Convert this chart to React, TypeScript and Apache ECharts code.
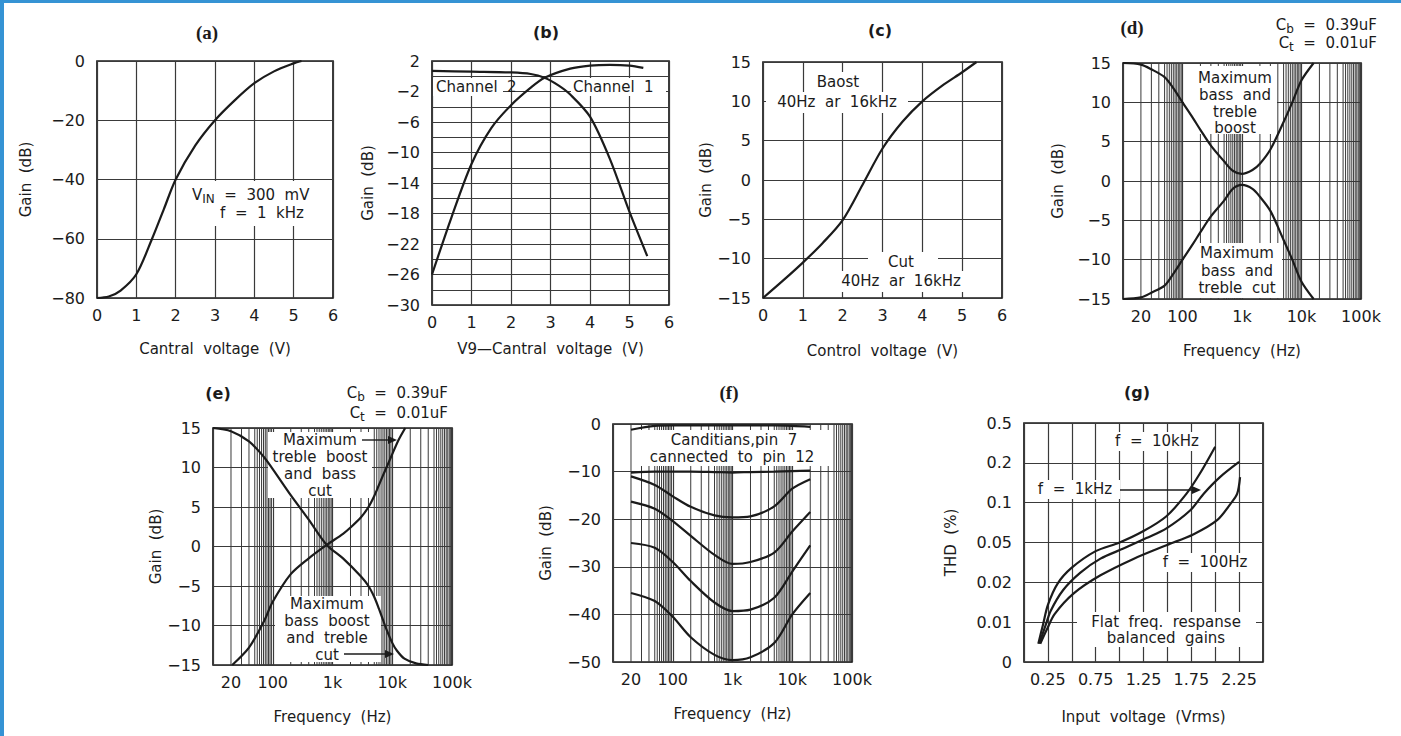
import React, { useEffect, useRef } from 'react';
import * as echarts from 'echarts';

const FONT = 'DejaVu Sans';
const INK = '#1b1b1b';
const GRIDC = '#3a3a3a';

// ---------- (a) ----------
const A_X = [0, 0.3, 0.6, 1.0, 1.4, 1.7, 2.0, 2.5, 3.0, 3.5, 4.0, 4.5, 5.0, 5.2];
const A_Y = [-80, -79.5, -77.5, -72, -60, -50, -40, -28.5, -20, -13.3, -7.5, -3.5, -0.8, 0];

// ---------- (b) ----------
const B_RISE_X = [0, 0.5, 1.0, 1.5, 2.0, 2.5, 2.85, 3.5, 4.0, 4.5, 5.0, 5.35];
const B_RISE_Y = [-26, -18.4, -11.5, -6.8, -3.8, -1.5, -0.2, 1.0, 1.4, 1.5, 1.4, 1.1];
const B_FALL_X = [0, 1.0, 2.0, 2.5, 2.85, 3.2, 3.5, 4.0, 4.5, 5.0, 5.45];
const B_FALL_Y = [0.7, 0.6, 0.5, 0.3, -0.2, -1.2, -2.4, -5.3, -10.8, -17.8, -23.6];

// ---------- (c) ----------
const C_X = [0, 0.5, 1.0, 1.5, 2.0, 2.5, 3.0, 3.5, 4.0, 4.5, 5.0, 5.36];
const C_Y = [-15, -12.8, -10.5, -8.0, -5.1, -0.6, 4.0, 7.4, 10.0, 12.0, 13.7, 15];

// ---------- (d) ----------
const D_F = [10, 20, 30, 50, 70, 100, 150, 200, 300, 500, 700, 1000, 1500, 2000, 3000, 5000, 7000, 10000, 16000];
const D_BOOST = [15, 14.8, 14.2, 13.2, 11.8, 10, 8, 6.5, 4.5, 2.5, 1.3, 0.9, 1.4, 2.2, 4, 7.5, 10, 12.8, 15];
const D_CUT = [-15, -14.8, -14.2, -13.3, -11.8, -10, -8, -6.5, -4.5, -2.5, -1.0, -0.5, -1.0, -2.0, -3.8, -7.5, -10, -12.8, -15];

// ---------- (e) ----------
const E_FALL_F = [10, 20, 40, 70, 100, 200, 400, 800, 1500, 3000, 4000, 5000, 6000, 7000, 8000, 10000, 12000, 16000, 25000, 40000];
const E_FALL = [15, 14.6, 13.3, 11.4, 9.8, 6.5, 3.4, 0.2, -1.5, -3.8, -5.0, -6.4, -7.9, -9.3, -10.5, -12.2, -13.2, -14.2, -14.8, -15];
const E_RISE_F = [21, 40, 70, 100, 200, 400, 800, 1500, 2000, 3000, 4000, 5000, 6000, 7000, 8000, 9500, 12800, 16500];
const E_RISE = [-15, -12.8, -9.6, -7.0, -3.5, -1.5, 0.2, 1.6, 2.4, 3.7, 5.0, 6.4, 7.8, 9.0, 10.0, 11.3, 13.5, 15];

// ---------- (f) ----------
const F_F = [20, 50, 100, 200, 500, 1000, 2000, 5000, 10000, 20000];
const F_C0 = [-1.2, -0.4, -0.3, -0.3, -0.3, -0.3, -0.3, -0.3, -0.4, -0.6];
const F_C1 = [-10.2, -10, -10, -10, -10.1, -10.2, -10.1, -10, -9.9, -9.8];
const F_C2 = [-11, -12.8, -15.2, -17.4, -19.2, -19.6, -19.4, -17.3, -13.6, -11.6];
const F_C3 = [-16.3, -17.8, -20.4, -23.5, -27.5, -29.4, -29, -27, -22.6, -18.5];
const F_C4 = [-25, -26, -29, -33, -37.5, -39.3, -39, -36.5, -31, -25.5];
const F_C5 = [-35.5, -37.2, -40.5, -44.8, -48.5, -49.6, -49, -46, -40, -35.5];

// ---------- (g) ----------
const G_TICKS = [0, 0.01, 0.02, 0.05, 0.1, 0.2, 0.5];
const G_TICK_LABELS = ['0', '0.01', '0.02', '0.05', '0.1', '0.2', '0.5'];
const G_X_LABELS = [0.25, 0.75, 1.25, 1.75, 2.25];
const G10_V = [0.15, 0.2, 0.25, 0.35, 0.5, 0.75, 1.0, 1.25, 1.49, 1.70, 1.84, 2.0];
const G10_T = [0.0046, 0.0095, 0.0135, 0.0195, 0.028, 0.041, 0.05, 0.061, 0.079, 0.117, 0.166, 0.29];
const G1_V = [0.16, 0.22, 0.28, 0.41, 0.59, 0.80, 1.04, 1.28, 1.49, 1.74, 1.88, 2.05, 2.25];
const G1_T = [0.0046, 0.0088, 0.0122, 0.0175, 0.025, 0.0345, 0.0435, 0.054, 0.064, 0.0877, 0.117, 0.156, 0.204];
const G100_V = [0.17, 0.24, 0.32, 0.52, 0.80, 1.15, 1.49, 1.77, 2.02, 2.16, 2.23, 2.26];
const G100_T = [0.0046, 0.0082, 0.0115, 0.0165, 0.0235, 0.0345, 0.047, 0.0575, 0.0737, 0.098, 0.117, 0.156];

// log-axis ticks
const FREQ_LABELS = [20, 100, 1000, 10000, 100000];
const FREQ_DECADES = [10, 100, 1000, 10000];
const FREQ_MULT = [2, 3, 4, 5, 5.5, 6, 6.5, 7, 7.5, 8, 8.5, 9, 9.5];

const PANELS = [
  { left: 97, top: 61, width: 236, height: 237 },
  { left: 432, top: 61, width: 237, height: 244 },
  { left: 763, top: 62, width: 239, height: 236 },
  { left: 1123, top: 63, width: 238, height: 236 },
  { left: 213, top: 428, width: 239, height: 237 },
  { left: 613, top: 424, width: 239, height: 238 },
  { left: 1024, top: 423, width: 239, height: 239 },
];

function thdPos(v: number) {
  if (v <= G_TICKS[1]) return v / G_TICKS[1];
  for (let i = 1; i < G_TICKS.length - 1; i++) {
    if (v <= G_TICKS[i + 1]) return i + Math.log(v / G_TICKS[i]) / Math.log(G_TICKS[i + 1] / G_TICKS[i]);
  }
  return G_TICKS.length - 1;
}

const fmtNum = (v: number) => (v < 0 ? '\u2212' + String(-v) : String(v));
const fmtFreq = (v: number) => (v >= 1000 ? String(Math.round(v / 1000)) + 'k' : String(Math.round(v)));

const labelStyle = { fontFamily: FONT, fontSize: 16, color: INK };
const nameStyle = { fontFamily: FONT, fontSize: 15, color: INK };
const splitStyle = { show: true, lineStyle: { color: GRIDC, width: 1.2 } };

function valX(gi: number, min: number, max: number, interval: number, name: string, gap: number, extra: any = {}) {
  return {
    type: 'value', gridIndex: gi, min, max, interval, name, nameLocation: 'middle', nameGap: gap,
    nameTextStyle: nameStyle,
    axisLine: { show: false }, axisTick: { show: false },
    axisLabel: { ...labelStyle, margin: 9, formatter: fmtNum, ...(extra.axisLabel || {}) },
    splitLine: splitStyle,
  };
}
function valY(gi: number, min: number, max: number, interval: number, name: string, gap: number, extra: any = {}) {
  return {
    type: 'value', gridIndex: gi, min, max, interval, name, nameLocation: 'middle', nameGap: gap,
    nameTextStyle: nameStyle,
    axisLine: { show: false }, axisTick: { show: false },
    axisLabel: { ...labelStyle, margin: 12, formatter: fmtNum, ...(extra.axisLabel || {}) },
    splitLine: splitStyle,
    ...(extra.rest || {}),
  };
}
function logX(gi: number, name: string, gap: number) {
  return {
    type: 'log', logBase: 10, gridIndex: gi, min: 10, max: 100000, name, nameLocation: 'middle', nameGap: gap,
    nameTextStyle: nameStyle,
    axisLine: { show: false }, axisTick: { show: false },
    axisLabel: { ...labelStyle, margin: 9, customValues: FREQ_LABELS, formatter: fmtFreq },
    splitLine: splitStyle,
  };
}

function curve(xi: number, xs: number[], ys: number[]) {
  return {
    type: 'line', xAxisIndex: xi, yAxisIndex: xi, showSymbol: false, smooth: 0.3, silent: true,
    data: xs.map((x, i) => [x, ys[i]]),
    lineStyle: { color: INK, width: 2.2 },
    z: 2,
  };
}

function minorGrid(xi: number, ymin: number, ymax: number) {
  const data: number[][] = [];
  FREQ_DECADES.forEach((d) => FREQ_MULT.forEach((m) => data.push([d * m, ymin])));
  return {
    type: 'custom', xAxisIndex: xi, yAxisIndex: xi, silent: true, z: 0,
    data,
    renderItem: (params: any, api: any) => {
      const p1 = api.coord([api.value(0), ymin]);
      const p2 = api.coord([api.value(0), ymax]);
      return { type: 'line', shape: { x1: p1[0], y1: p1[1], x2: p2[0], y2: p2[1] }, style: { stroke: GRIDC, lineWidth: 1 } };
    },
  };
}

const box = (x: number, y: number, w: number, h: number) => ({
  type: 'rect', z: 1, silent: true, shape: { x, y, width: w, height: h }, style: { fill: '#ffffff' },
});
const txt = (x: number, y: number, text: string, o: any = {}) => ({
  type: 'text', z: 5, x, y, silent: true,
  style: {
    text, fill: INK, fontFamily: FONT, fontSize: 15,
    align: o.align || 'center', textAlign: o.align || 'center',
    verticalAlign: 'middle', textVerticalAlign: 'middle',
    fontWeight: o.fontWeight || 'normal',
    ...(o.style || {}),
  },
});
const seg = (x1: number, y1: number, x2: number, y2: number) => ({
  type: 'line', z: 5, silent: true, shape: { x1, y1, x2, y2 }, style: { stroke: INK, lineWidth: 1.4 },
});
const arrow = (x: number, y: number) => ({
  type: 'polygon', z: 5, silent: true, shape: { points: [[x, y], [x - 9, y - 4], [x - 9, y + 4]] }, style: { fill: INK },
});
const title = (x: number, y: number, t: string, serif: boolean) => ({
  type: 'text', z: 5, x, y, silent: true,
  style: {
    text: t, fill: INK, fontFamily: serif ? 'Liberation Serif' : FONT, fontSize: serif ? 19 : 16, fontWeight: 'bold',
    align: 'center', textAlign: 'center', verticalAlign: 'middle', textVerticalAlign: 'middle',
  },
});
const capText = (x: number, y: number, sub: string, val: string) => ({
  type: 'text', z: 5, x, y, silent: true,
  style: {
    text: '{c|C}{s|' + sub + '}{c|  =  ' + val + '}',
    align: 'right', textAlign: 'right', verticalAlign: 'middle', textVerticalAlign: 'middle',
    fill: INK, fontFamily: FONT, fontSize: 15,
    rich: {
      c: { fill: INK, fontFamily: FONT, fontSize: 15 },
      s: { fill: INK, fontFamily: FONT, fontSize: 12, padding: [8, 0, 0, 0] },
    },
  },
});

function buildOption(): any {
  const graphics: any[] = [
    title(207, 32, '(a)', true),
    title(546, 32, '(b)', false),
    title(880, 30, '(c)', false),
    title(1132, 27, '(d)', true),
    title(218, 393, '(e)', false),
    title(729, 392, '(f)', true),
    title(1137, 392, '(g)', false),
    // (a)
    box(189, 181, 143, 45),
    {
      type: 'text', z: 5, x: 192, y: 195, silent: true,
      style: {
        text: '{c|V}{s|IN}{c|  =  300  mV}', align: 'left', textAlign: 'left', verticalAlign: 'middle', textVerticalAlign: 'middle',
        fill: INK, fontFamily: FONT, fontSize: 15,
        rich: {
          c: { fill: INK, fontFamily: FONT, fontSize: 15 },
          s: { fill: INK, fontFamily: FONT, fontSize: 12, padding: [8, 0, 0, 0] },
        },
      },
    },
    txt(262, 213, 'f  =  1  kHz'),
    // (b)
    box(433, 78, 70, 18),
    txt(436, 87, 'Channel  2', { align: 'left' }),
    box(571, 78, 95, 18),
    txt(573, 87, 'Channel  1', { align: 'left' }),
    // (c)
    box(815, 72, 48, 20),
    txt(838, 82, 'Baost'),
    box(766, 92, 142, 21),
    txt(837, 102, '40Hz  ar  16kHz'),
    box(868, 252, 70, 19),
    txt(901, 262, 'Cut'),
    box(832, 271, 139, 21),
    txt(901, 281, '40Hz  ar  16kHz'),
    // (d)
    capText(1377, 25, 'b', '0.39uF'),
    capText(1377, 43, 't', '0.01uF'),
    box(1184, 66, 93, 68),
    txt(1235, 78, 'Maximum'),
    txt(1235, 95, 'bass  and'),
    txt(1235, 112, 'treble'),
    txt(1235, 128, 'boost'),
    box(1184, 243, 98, 55),
    txt(1237, 253, 'Maximum'),
    txt(1237, 271, 'bass  and'),
    txt(1237, 288, 'treble  cut'),
    // (e)
    capText(448, 393, 'b', '0.39uF'),
    capText(448, 413, 't', '0.01uF'),
    box(268, 432, 104, 66),
    txt(320, 440, 'Maximum'),
    txt(320, 457, 'treble  boost'),
    txt(320, 474, 'and  bass'),
    txt(320, 491, 'cut'),
    seg(362, 440, 388, 440),
    arrow(397, 440),
    box(275, 596, 106, 66),
    txt(327, 604, 'Maximum'),
    txt(327, 621, 'bass  boost'),
    txt(327, 638, 'and  treble'),
    txt(327, 655, 'cut'),
    seg(344, 654, 385, 654),
    arrow(394, 654),
    // (f)
    box(636, 430, 193, 36),
    txt(734, 440, 'Canditians,pin  7'),
    txt(732, 457, 'cannected  to  pin  12'),
    // (g)
    box(1106, 432, 100, 19),
    txt(1157, 441, 'f  =  10kHz'),
    box(1030, 480, 90, 19),
    txt(1075, 489, 'f  =  1kHz'),
    seg(1120, 490, 1192, 490),
    arrow(1201, 490),
    box(1155, 553, 100, 19),
    txt(1205, 562, 'f  =  100Hz'),
    box(1077, 612, 179, 35),
    txt(1166, 622, 'Flat  freq.  respanse'),
    txt(1166, 638, 'balanced  gains'),
  ];

  return {
    animation: false,
    backgroundColor: 'transparent',
    textStyle: { fontFamily: FONT },
    grid: PANELS.map((p) => ({
      ...p, show: true, borderColor: INK, borderWidth: 1.7, backgroundColor: 'transparent',
      containLabel: false, outerBoundsMode: 'none',
    })),
    xAxis: [
      valX(0, 0, 6, 1, 'Cantral  voltage  (V)', 43),
      valX(1, 0, 6, 1, 'V9\u2014Cantral  voltage  (V)', 36),
      valX(2, 0, 6, 1, 'Control  voltage  (V)', 45),
      logX(3, 'Frequency  (Hz)', 44),
      logX(4, 'Frequency  (Hz)', 44),
      logX(5, 'Frequency  (Hz)', 44),
      valX(6, 0, 2.5, 0.25, 'Input  voltage  (Vrms)', 47, {
        axisLabel: { customValues: G_X_LABELS, formatter: (v: number) => v.toFixed(2) },
      }),
    ],
    yAxis: [
      valY(0, -80, 0, 20, 'Gain  (dB)', 64),
      valY(1, -30, 2, 4, 'Gain  (dB)', 57, {
        rest: { minorTick: { show: false, splitNumber: 2 }, minorSplitLine: { show: true, lineStyle: { color: GRIDC, width: 1.2 } } },
      }),
      valY(2, -15, 15, 5, 'Gain  (dB)', 50),
      valY(3, -15, 15, 5, 'Gain  (dB)', 58),
      valY(4, -15, 15, 5, 'Gain  (dB)', 45),
      valY(5, -50, 0, 10, 'Gain  (dB)', 60),
      valY(6, 0, 6, 1, 'THD  (%)', 66, {
        axisLabel: { formatter: (v: number) => G_TICK_LABELS[Math.round(v)] },
      }),
    ],
    series: [
      curve(0, A_X, A_Y),
      curve(1, B_RISE_X, B_RISE_Y),
      curve(1, B_FALL_X, B_FALL_Y),
      curve(2, C_X, C_Y),
      minorGrid(3, -15, 15),
      curve(3, D_F, D_BOOST),
      curve(3, D_F, D_CUT),
      minorGrid(4, -15, 15),
      curve(4, E_FALL_F, E_FALL),
      curve(4, E_RISE_F, E_RISE),
      minorGrid(5, -50, 0),
      curve(5, F_F, F_C0),
      curve(5, F_F, F_C1),
      curve(5, F_F, F_C2),
      curve(5, F_F, F_C3),
      curve(5, F_F, F_C4),
      curve(5, F_F, F_C5),
      curve(6, G10_V, G10_T.map(thdPos)),
      curve(6, G1_V, G1_T.map(thdPos)),
      curve(6, G100_V, G100_T.map(thdPos)),
    ],
    graphic: { elements: graphics },
  };
}

export default function App() {
  const ref = useRef<HTMLDivElement>(null);
  useEffect(() => {
    const chart = echarts.init(ref.current as HTMLDivElement, null, { renderer: 'svg', width: 1401, height: 736 });
    chart.setOption(buildOption());
    return () => chart.dispose();
  }, []);
  return (
    <div style={{ position: 'absolute', left: 0, top: 0, width: 1401, height: 736, background: '#ffffff', overflow: 'hidden' }}>
      <div ref={ref} style={{ position: 'absolute', left: 0, top: 0, width: 1401, height: 736 }} />
      <div style={{ position: 'absolute', left: 0, top: 0, width: 4, height: 736, background: '#3593d4' }} />
      <div style={{ position: 'absolute', left: 0, top: 0, width: 1401, height: 3, background: '#3593d4' }} />
    </div>
  );
}
